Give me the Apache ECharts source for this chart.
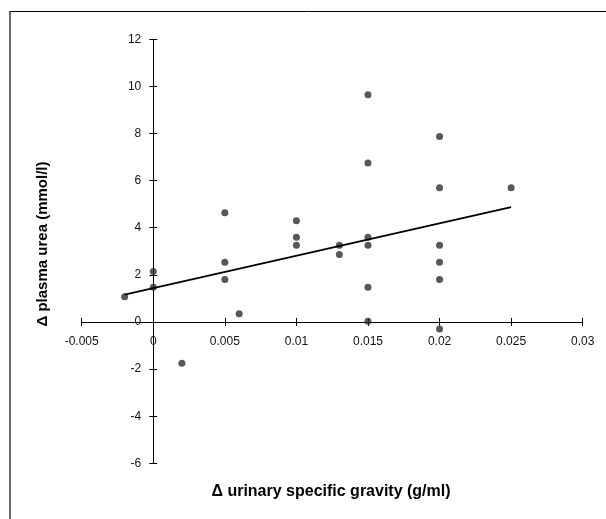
<!DOCTYPE html>
<html>
<head>
<meta charset="utf-8">
<script src="https://cdn.jsdelivr.net/npm/echarts@6/dist/echarts.min.js"></script>
<style>
html,body{margin:0;padding:0;background:#fff;}
#c{width:606px;height:519px;}
</style>
</head>
<body>
<div id="c"></div>
<script>
// Data
var xValues = [-0.002, 0, 0, 0.002, 0.005, 0.005, 0.005, 0.006, 0.01, 0.01, 0.01, 0.013, 0.013,
  0.015, 0.015, 0.015, 0.015, 0.015, 0.015, 0.02, 0.02, 0.02, 0.02, 0.02, 0.02, 0.025];
var yValues = [1.07, 2.14, 1.47, -1.75, 4.64, 2.53, 1.80, 0.35, 4.30, 3.60, 3.26, 3.26, 2.86,
  9.65, 6.75, 3.60, 3.26, 1.47, 0.03, 7.87, 5.70, 3.26, 2.53, 1.80, -0.30, 5.70];
var trendX = [-0.002, 0.025];
var trendY = [1.16, 4.88];
var xTitle = '\u0394 urinary specific gravity (g/ml)';
var yTitle = '\u0394 plasma urea (mmol/l)';

var points = xValues.map(function (x, i) { return [x, yValues[i]]; });
var trend = trendX.map(function (x, i) { return [x, trendY[i]]; });

var font = 'Liberation Sans, Arial, sans-serif';
var G = {left: 81.7, top: 39.3, width: 501, height: 424};
var X_MIN = -0.005, X_MAX = 0.03, Y_MIN = -6, Y_MAX = 12;
// move axes so they cross at zero (layout offsets)
var xOff = -G.height * (0 - Y_MIN) / (Y_MAX - Y_MIN);
var yOff = -G.width * (0 - X_MIN) / (X_MAX - X_MIN);

var chart = echarts.init(document.getElementById('c'), null, {renderer: 'canvas'});
var xBase = {type: 'value', min: X_MIN, max: X_MAX, interval: 0.005, splitLine: {show: false}, position: 'bottom', offset: xOff};
var yBase = {type: 'value', min: Y_MIN, max: Y_MAX, interval: 2, splitLine: {show: false}, position: 'left', offset: yOff};
chart.setOption({
  animation: false,
  backgroundColor: '#fff',
  grid: {left: G.left, top: G.top, width: G.width, height: G.height, containLabel: false},
  xAxis: [
    Object.assign({}, xBase, {
      axisLine: {onZero: false, lineStyle: {color: '#000', width: 1}},
      axisTick: {show: true, inside: false, length: 4, lineStyle: {color: '#000'}},
      axisLabel: {color: '#111', fontFamily: font, fontSize: 12, margin: 14}
    }),
    Object.assign({}, xBase, {
      axisLine: {onZero: false, show: false},
      axisTick: {show: true, inside: true, length: 4, lineStyle: {color: '#000'}},
      axisLabel: {show: false}
    })
  ],
  yAxis: [
    Object.assign({}, yBase, {
      axisLine: {onZero: false, lineStyle: {color: '#000', width: 1}},
      axisTick: {show: true, inside: false, length: 4, lineStyle: {color: '#000'}},
      axisLabel: {color: '#111', fontFamily: font, fontSize: 12, margin: 12}
    }),
    Object.assign({}, yBase, {
      axisLine: {onZero: false, show: false},
      axisTick: {show: true, inside: true, length: 4, lineStyle: {color: '#000'}},
      axisLabel: {show: false}
    })
  ],
  series: [
    {
      type: 'scatter', data: points, symbol: 'circle', symbolSize: 7,
      itemStyle: {color: '#2e2e2e'}, xAxisIndex: 0, yAxisIndex: 0, z: 3
    },
    {
      type: 'line', data: trend, symbol: 'none', lineStyle: {color: '#000', width: 1.8},
      xAxisIndex: 0, yAxisIndex: 0, z: 4
    }
  ],
  graphic: [
    {type: 'line', shape: {x1: 9, y1: 11.5, x2: 606, y2: 11.5}, style: {stroke: '#000', lineWidth: 1}},
    {type: 'line', shape: {x1: 10, y1: 11, x2: 10, y2: 519}, style: {stroke: '#444', lineWidth: 1.6}},
    {type: 'text', position: [331, 492], style: {text: xTitle, font: 'bold 16px ' + font, fill: '#000', textAlign: 'center', textVerticalAlign: 'middle'}},
    {type: 'text', rotation: Math.PI / 2, position: [43, 244], style: {text: yTitle, font: 'bold 15px ' + font, fill: '#000', textAlign: 'center', textVerticalAlign: 'middle'}}
  ]
});
</script>
</body>
</html>
